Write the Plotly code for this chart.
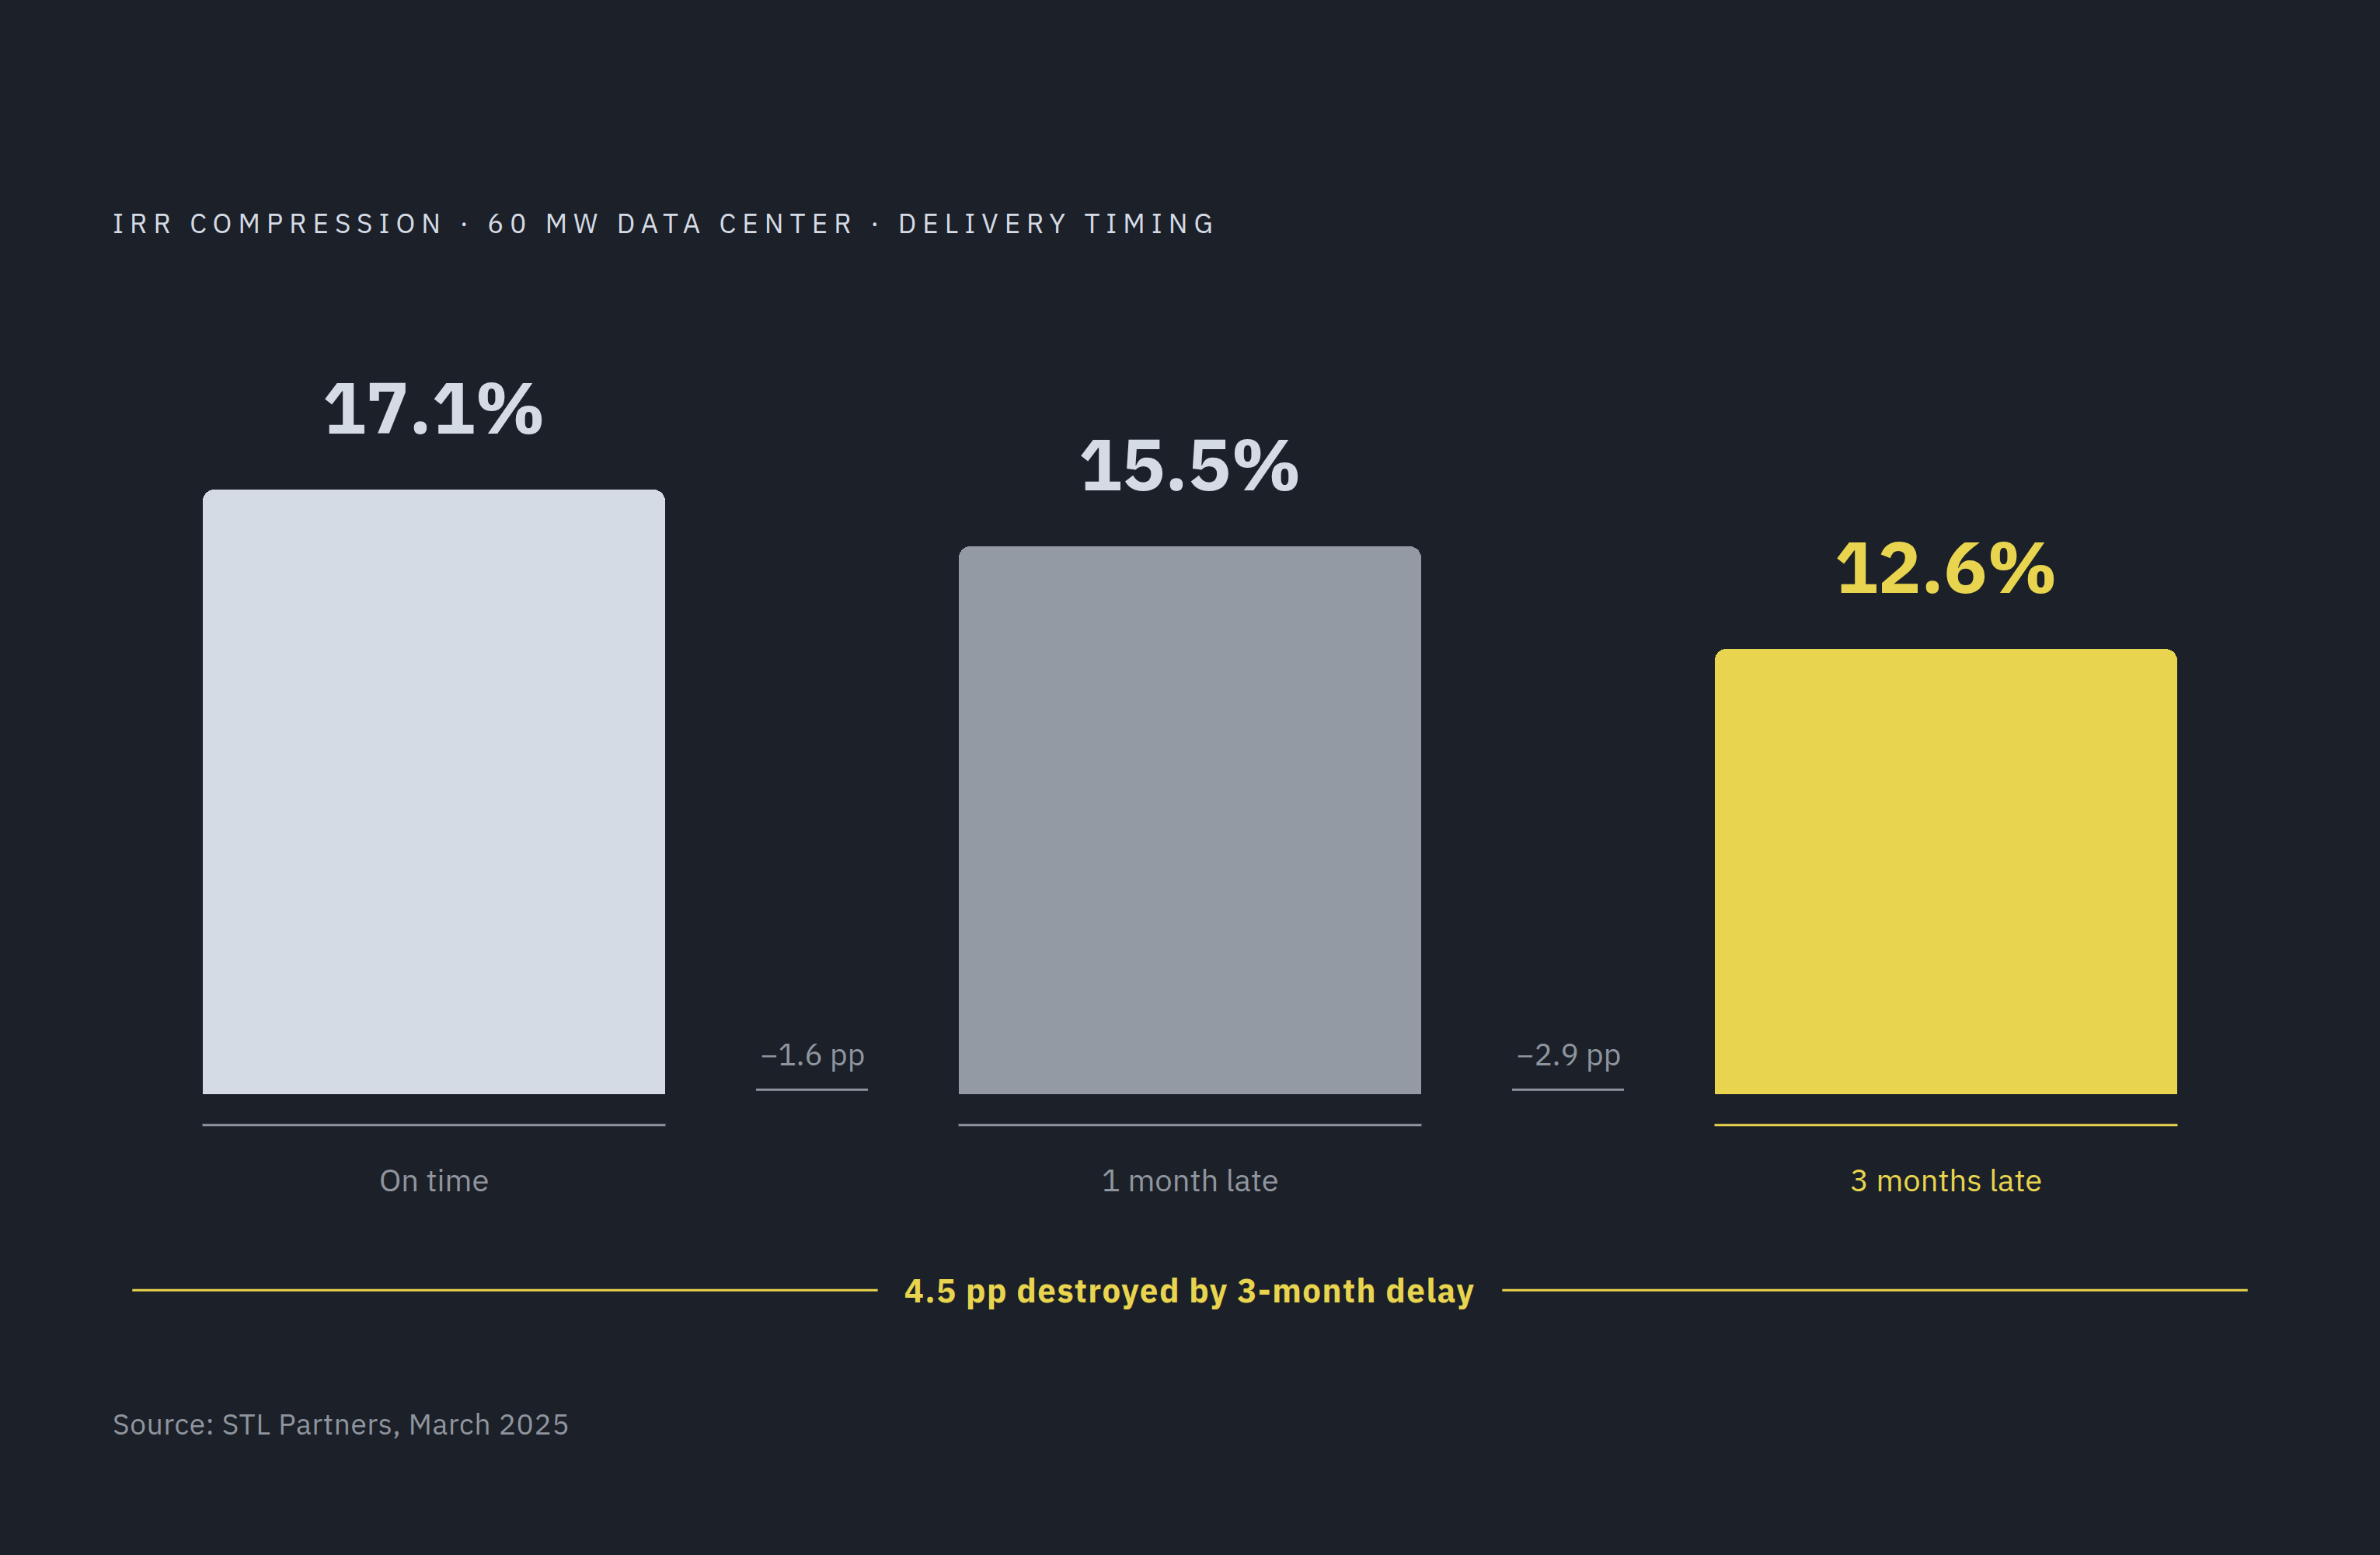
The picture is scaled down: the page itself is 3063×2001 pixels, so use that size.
import plotly.graph_objects as go

# dados
categorias = ['On time', '1 month late', '3 months late']
irr = [17.1, 15.5, 12.6]
cores_barras = ['#d5dbe5', '#949aa3', '#e8d44e']
cores_rotulos = ['#8f959e', '#8f959e', '#e8d44e']
cores_valores = ['#d5dbe5', '#d5dbe5', '#e8d44e']
cores_base = ['#8f959e', '#8f959e', '#e8d44e']

titulo = 'IRR COMPRESSION · 60 MW DATA CENTER · DELIVERY TIMING'
fonte = 'Source: STL Partners, March 2025'

FUNDO = '#1c2028'
AMARELO = '#e8d44e'
CINZA = '#8f959e'
FAMILIA = 'IBM Plex Sans, Roboto, Noto Sans, sans-serif'

W, H = 3063, 2001
x_pos = list(range(len(categorias)))
largura = 0.6125

fig = go.Figure()

fig.add_trace(go.Bar(
    x=x_pos, y=irr, width=largura,
    marker=dict(color=cores_barras, cornerradius=15, line=dict(width=0)),
    hoverinfo='skip', showlegend=False
))

anotacoes = []
formas = []

# valores acima das barras
for x, v, c in zip(x_pos, irr, cores_valores):
    anotacoes.append(dict(
        x=x, y=v, xref='x', yref='y', text=f'{v:.1f}%', showarrow=False,
        yanchor='bottom', yshift=44,
        font=dict(family=FAMILIA, size=93, color=c, weight='bold')
    ))

# linha de base e rótulo da categoria
for x, cat, cr, cb in zip(x_pos, categorias, cores_rotulos, cores_base):
    formas.append(dict(
        type='line', xref='x', yref='y',
        x0=x - largura / 2, x1=x + largura / 2, y0=-0.87, y1=-0.87,
        line=dict(color=cb, width=3)
    ))
    anotacoes.append(dict(
        x=x, y=-2.42, xref='x', yref='y', text=cat, showarrow=False,
        font=dict(family=FAMILIA, size=40, color=cr)
    ))

# variações entre barras
for i in range(len(irr) - 1):
    delta = irr[i + 1] - irr[i]
    xm = i + 0.5
    anotacoes.append(dict(
        x=xm, y=1.14, xref='x', yref='y', text=f'\u2212{abs(delta):.1f} pp',
        showarrow=False, font=dict(family=FAMILIA, size=39, color=CINZA)
    ))
    formas.append(dict(
        type='line', xref='x', yref='y',
        x0=xm - 0.074, x1=xm + 0.074, y0=0.13, y1=0.13,
        line=dict(color=CINZA, width=3)
    ))

# total destruído
total = irr[0] - irr[-1]
anotacoes.append(dict(
    x=1, y=-5.54, xref='x', yref='y',
    text=f'{total:.1f} pp destroyed by 3-month delay', showarrow=False,
    font=dict(family=FAMILIA, size=42, color=AMARELO, weight='bold')
))
for x0, x1 in [(-0.399, 0.587), (1.413, 2.399)]:
    formas.append(dict(
        type='line', xref='x', yref='y', x0=x0, x1=x1, y0=-5.54, y1=-5.54,
        line=dict(color=AMARELO, width=3)
    ))

# título e fonte
anotacoes.append(dict(
    x=143 / W, y=1 - 287 / H, xref='paper', yref='paper', text=titulo,
    showarrow=False, xanchor='left', yanchor='middle', align='left',
    font=dict(family=FAMILIA, size=35, color='#d5dbe5')
))
anotacoes.append(dict(
    x=143 / W, y=1 - 1832 / H, xref='paper', yref='paper', text=fonte,
    showarrow=False, xanchor='left', yanchor='middle', align='left',
    font=dict(family=FAMILIA, size=37, color=CINZA)
))

fig.update_layout(
    width=W, height=H,
    margin=dict(l=0, r=0, t=0, b=0),
    paper_bgcolor=FUNDO, plot_bgcolor=FUNDO,
    xaxis=dict(range=[-0.574, 2.574], visible=False, fixedrange=True),
    yaxis=dict(range=[-13.03, 30.95], visible=False, fixedrange=True),
    annotations=anotacoes,
    shapes=formas,
    bargap=0
)

# plotly não tem letter-spacing: aplica no SVG depois de desenhar
script_pos = """
document.body.style.margin = '0';
document.body.style.background = '%s';
var espacos = {'IRR COMPRESSION': '0.23em', 'Source:': '0.02em', '4.5 pp': '0.035em'};
document.querySelectorAll('.annotation text').forEach(function(t){
  Object.keys(espacos).forEach(function(k){
    if (t.textContent.indexOf(k) === 0) { t.style.letterSpacing = espacos[k]; }
  });
});
""" % FUNDO

fig.write_html('out.html', post_script=script_pos, config={'displayModeBar': False})
